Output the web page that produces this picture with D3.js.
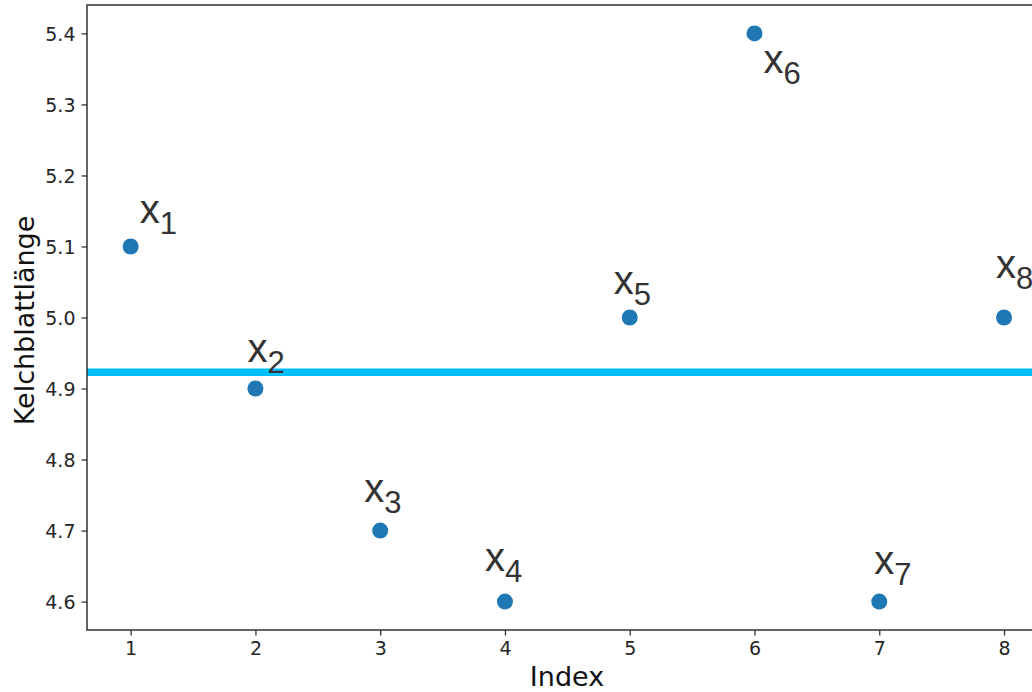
<!DOCTYPE html>
<html>
<head>
<meta charset="utf-8">
<script src="https://cdn.jsdelivr.net/npm/d3@7"></script>
<style>
  body { margin: 0; background: #fff; }
  svg { display: block; }
  .tick text { font-family: "DejaVu Sans", sans-serif; font-size: 19px; fill: #262626; }
  .tick line { stroke: #333; stroke-width: 1.3; }
</style>
</head>
<body>
<svg id="chart"></svg>
<script>
// data
var indices = [1, 2, 3, 4, 5, 6, 7, 8];
var sepalLength = [5.1, 4.9, 4.7, 4.6, 5.0, 5.4, 4.6, 5.0];
var pointLabels = ["1", "2", "3", "4", "5", "6", "7", "8"];
var meanLine = 4.923;
var xTicks = [1, 2, 3, 4, 5, 6, 7, 8];
var yTicks = [4.6, 4.7, 4.8, 4.9, 5.0, 5.1, 5.2, 5.3, 5.4];
// label nudges in pixels (dx to glyph start, dy to baseline)
var labelOffsets = [[9, -23], [-8, -27], [-16, -29], [-20, -31], [-16, -24], [9, 40], [-5, -28], [-8, -40]];

var W = 1032, H = 692;
var svg = d3.select("#chart").attr("width", W).attr("height", H);

var xScale = d3.scaleLinear().domain([0.65, 8.35]).range([87, 1047.7]);
var yScale = d3.scaleLinear().domain([4.56, 5.44]).range([630, 5]);

var plotLeft = xScale.range()[0], plotRight = xScale.range()[1];
var plotTop = yScale.range()[1], plotBottom = yScale.range()[0];

// axes
var xAxis = svg.append("g")
  .attr("transform", "translate(0," + plotBottom + ")")
  .call(d3.axisBottom(xScale).tickValues(xTicks).tickFormat(d3.format("d")).tickSize(5.5).tickPadding(6));
xAxis.select(".domain").remove();

var yAxis = svg.append("g")
  .attr("transform", "translate(" + plotLeft + ",0)")
  .call(d3.axisLeft(yScale).tickValues(yTicks).tickFormat(d3.format(".1f")).tickSize(5.5).tickPadding(6));
yAxis.select(".domain").remove();
yAxis.selectAll(".tick text").attr("dy", "0.36em");

// mean line
svg.append("line")
  .attr("x1", plotLeft).attr("x2", plotRight)
  .attr("y1", yScale(meanLine)).attr("y2", yScale(meanLine))
  .attr("stroke", "#00bfff")
  .attr("stroke-width", 7.5);

// spines
svg.append("rect")
  .attr("x", plotLeft).attr("y", plotTop)
  .attr("width", plotRight - plotLeft).attr("height", plotBottom - plotTop)
  .attr("fill", "none")
  .attr("stroke", "#333")
  .attr("stroke-width", 1.5);

// points
svg.selectAll(".dot")
  .data(indices)
  .enter()
  .append("circle")
    .attr("class", "dot")
    .attr("cx", function(d) { return xScale(d); })
    .attr("cy", function(d, i) { return yScale(sepalLength[i]); })
    .attr("r", 8)
    .style("fill", "#1f77b4");

// point labels x_i
var labels = svg.selectAll(".lab")
  .data(indices)
  .enter()
  .append("text")
    .attr("class", "lab")
    .attr("x", function(d, i) { return xScale(d) + labelOffsets[i][0]; })
    .attr("y", function(d, i) { return yScale(sepalLength[i]) + labelOffsets[i][1]; })
    .style("font-family", "'Liberation Sans', Arial, sans-serif")
    .style("font-size", "40px")
    .style("fill", "#333");
labels.append("tspan").text("x");
labels.append("tspan")
  .attr("dy", 11)
  .style("font-size", "31px")
  .text(function(d, i) { return pointLabels[i]; });

// axis titles
svg.append("text")
  .attr("x", 567)
  .attr("y", 686)
  .attr("text-anchor", "middle")
  .style("font-family", "'DejaVu Sans', sans-serif")
  .style("font-size", "27px")
  .style("fill", "#111")
  .text("Index");

svg.append("text")
  .attr("transform", "translate(34," + ((plotTop + plotBottom) / 2 + 3) + ") rotate(-90)")
  .attr("text-anchor", "middle")
  .style("font-family", "'DejaVu Sans', sans-serif")
  .style("font-size", "27px")
  .style("fill", "#111")
  .text("Kelchblattlänge");
</script>
</body>
</html>
